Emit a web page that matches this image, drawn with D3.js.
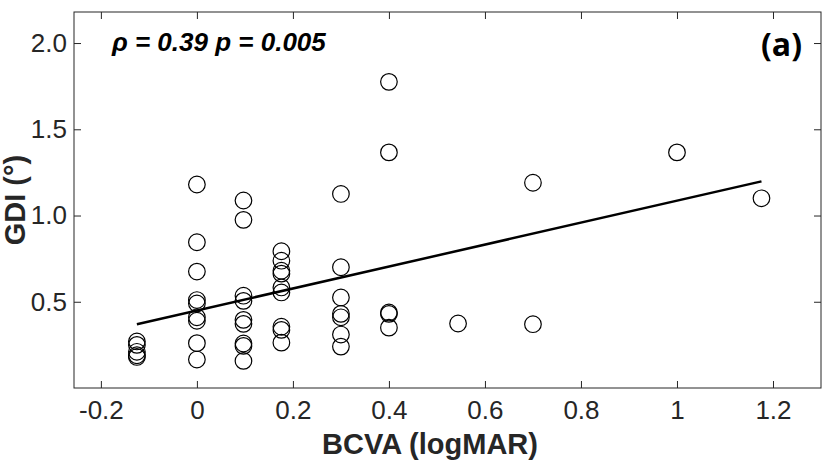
<!DOCTYPE html>
<html><head><meta charset="utf-8">
<script src="https://cdn.jsdelivr.net/npm/d3@7"></script>
<style>body{margin:0;background:#fff}svg{display:block}</style>
</head><body>
<svg id="c" width="825" height="467"></svg>
<script>
const bcva = [
 -0.125,-0.125,-0.125,-0.125,-0.125,
 0,0,0,0,0,0,0,0,0,
 0.097,0.097,0.097,0.097,0.097,0.097,0.097,0.097,0.097,
 0.176,0.176,0.176,0.176,0.176,0.176,0.176,0.176,0.176,
 0.3,0.3,0.3,0.3,0.3,0.3,0.3,
 0.4,0.4,0.4,0.4,0.4,
 0.544,
 0.7,0.7,
 1.0,
 1.176
];
const gdi = [
 0.27,0.25,0.21,0.19,0.18,
 1.18,0.845,0.675,0.51,0.49,0.41,0.39,0.26,0.165,
 1.087,0.975,0.535,0.505,0.395,0.372,0.258,0.244,0.157,
 0.793,0.738,0.68,0.663,0.583,0.554,0.355,0.337,0.263,
 1.125,0.70,0.525,0.43,0.41,0.31,0.24,
 1.775,1.366,0.438,0.43,0.35,
 0.374,
 1.19,0.37,
 1.366,
 1.10
];
const fitX = [-0.125, 1.176];
const fitY = [0.370, 1.198];
const xTicks = [-0.2,0,0.2,0.4,0.6,0.8,1,1.2];
const xTickLabels = ["-0.2","0","0.2","0.4","0.6","0.8","1","1.2"];
const yTicks = [0.5,1.0,1.5,2.0];
const yTickLabels = ["0.5","1.0","1.5","2.0"];
const xLabel = "BCVA (logMAR)";
const yLabel = "GDI (°)";
const statText = "ρ = 0.39 p = 0.005";
const panelLabel = "(a)";

const L=74, R=821, T=12, B=388;
const x = d3.scaleLinear().domain([-0.256,1.3]).range([L,R]);
const y = d3.scaleLinear().domain([0,2.18]).range([B,T]);
const svg = d3.select("#c");
const ax = "#262626";
const font = "'Liberation Sans', Arial, sans-serif";

const tl = 7;
const gx = svg.append("g").attr("transform",`translate(0,${B})`)
  .call(d3.axisBottom(x).tickValues(xTicks).tickFormat((d,i)=>xTickLabels[i]).tickSizeInner(-tl).tickSizeOuter(0).tickPadding(13));
const gxt = svg.append("g").attr("transform",`translate(0,${T})`)
  .call(d3.axisTop(x).tickValues(xTicks).tickFormat("").tickSizeInner(-tl).tickSizeOuter(0));
const gy = svg.append("g").attr("transform",`translate(${L},0)`)
  .call(d3.axisLeft(y).tickValues(yTicks).tickFormat((d,i)=>yTickLabels[i]).tickSizeInner(-tl).tickSizeOuter(0).tickPadding(7));
const gyr = svg.append("g").attr("transform",`translate(${R},0)`)
  .call(d3.axisRight(y).tickValues(yTicks).tickFormat("").tickSizeInner(-tl).tickSizeOuter(0));
[gx,gxt,gy,gyr].forEach(g=>{
  g.select(".domain").remove();
  g.selectAll("line").attr("stroke",ax).attr("stroke-width",1);
  g.selectAll("text").attr("fill",ax).style("font-family",font).style("font-size","26px");
});
svg.append("rect").attr("x",L).attr("y",T).attr("width",R-L).attr("height",B-T)
  .attr("fill","none").attr("stroke",ax).attr("stroke-width",1);

svg.append("g").selectAll("circle").data(bcva).join("circle")
  .attr("cx",d=>x(d)).attr("cy",(d,i)=>y(gdi[i])).attr("r",8.3)
  .attr("fill","none").attr("stroke","#000").attr("stroke-width",1.2);

svg.append("path").datum(fitX.map((d,i)=>[d,fitY[i]]))
  .attr("d",d3.line().x(d=>x(d[0])).y(d=>y(d[1])))
  .attr("stroke","#000").attr("stroke-width",2.5).attr("fill","none");

svg.append("text").attr("x",430).attr("y",454).attr("text-anchor","middle")
  .style("font-family",font).style("font-weight","bold").style("font-size","29px").attr("fill",ax).text(xLabel);
svg.append("text").attr("transform",`translate(25,${(T+B)/2}) rotate(-90)`).attr("text-anchor","middle")
  .style("font-family",font).style("font-weight","bold").style("font-size","29px").attr("fill",ax).text(yLabel);
svg.append("text").attr("x",112).attr("y",51)
  .style("font-family",font).style("font-weight","bold").style("font-style","italic").style("font-size","26px").attr("fill","#000").text(statText);
svg.append("text").attr("x",802).attr("y",56).attr("text-anchor","end")
  .style("font-family","'Open Sans', sans-serif").style("font-weight","bold").style("font-size","32px").attr("fill","#000").text(panelLabel);
</script>
</body></html>
